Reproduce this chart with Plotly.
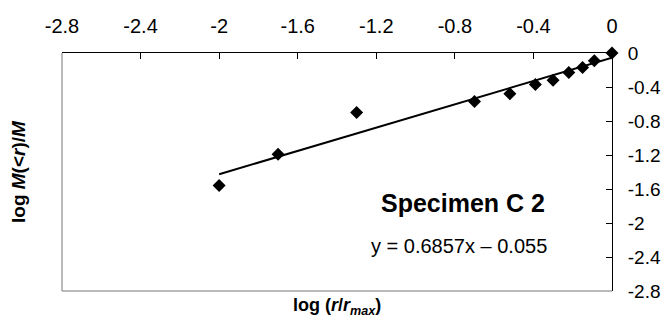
import plotly.graph_objects as go

log_r = [-2.0, -1.7, -1.3, -0.7, -0.52, -0.39, -0.3, -0.22, -0.15, -0.09, 0.0]
log_m = [-1.56, -1.19, -0.70, -0.57, -0.48, -0.37, -0.32, -0.23, -0.17, -0.09, 0.0]
slope = 0.6857
intercept = -0.055
fit_x = [-2.0, 0.0]
fit_y = [slope * v + intercept for v in fit_x]
tick_vals = [-2.8, -2.4, -2.0, -1.6, -1.2, -0.8, -0.4, 0.0]
tick_text = ["-2.8", "-2.4", "-2", "-1.6", "-1.2", "-0.8", "-0.4", "0"]

FONT = "Liberation Sans, Arial, sans-serif"

fig = go.Figure()
fig.add_trace(go.Scatter(x=fit_x, y=fit_y, mode="lines",
                         line=dict(color="black", width=2), cliponaxis=False,
                         showlegend=False))
fig.add_trace(go.Scatter(x=log_r, y=log_m, mode="markers",
                         marker=dict(symbol="diamond", size=10, color="black"),
                         cliponaxis=False, showlegend=False))

fig.update_layout(
    width=653, height=313,
    margin=dict(l=54, r=49, t=45, b=30, autoexpand=False),
    plot_bgcolor="white", paper_bgcolor="white",
    font=dict(family=FONT, size=20, color="black"),
    xaxis=dict(range=[-2.8, 0], side="top", tickvals=tick_vals, ticktext=tick_text,
               ticks="inside", ticklen=6, tickcolor="black", tickwidth=1,
               showline=True, linecolor="black", linewidth=1, automargin=False,
               ticklabelstandoff=11,
               showgrid=False, zeroline=False, tickfont=dict(size=20)),
    yaxis=dict(range=[-2.8, 0], side="right", tickvals=tick_vals, ticktext=tick_text,
               ticks="inside", ticklen=6, tickcolor="black", tickwidth=1,
               showline=True, linecolor="black", linewidth=1, automargin=False,
               ticklabelstandoff=11,
               showgrid=False, zeroline=False, tickfont=dict(size=19)),
    shapes=[
        dict(type="line", xref="paper", yref="paper", x0=0, x1=0, y0=0, y1=1,
             line=dict(color="#777777", width=1)),
        dict(type="line", xref="paper", yref="paper", x0=0, x1=1, y0=0, y1=0,
             line=dict(color="#777777", width=1)),
    ],
    annotations=[
        dict(text="<b>Specimen C 2</b>", x=-0.76, y=-1.76, xref="x", yref="y",
             showarrow=False, font=dict(size=25)),
        dict(text="y = 0.6857x – 0.055", x=-0.78, y=-2.27, xref="x", yref="y",
             showarrow=False, font=dict(size=20)),
        dict(text="<b>log (<i>r</i>/<i>r</i><sub><i>max</i></sub>)</b>", x=0.5, y=-0.01,
             xref="paper", yref="paper", xanchor="center", yanchor="top",
             showarrow=False, font=dict(size=18)),
        dict(text="<b>log <i>M</i>(&lt;<i>r</i>)/<i>M</i></b>", x=-0.08, y=0.5,
             xref="paper", yref="paper", textangle=-90, xanchor="center", yanchor="middle",
             showarrow=False, font=dict(size=19)),
    ],
)

fig.write_html("out.html")
